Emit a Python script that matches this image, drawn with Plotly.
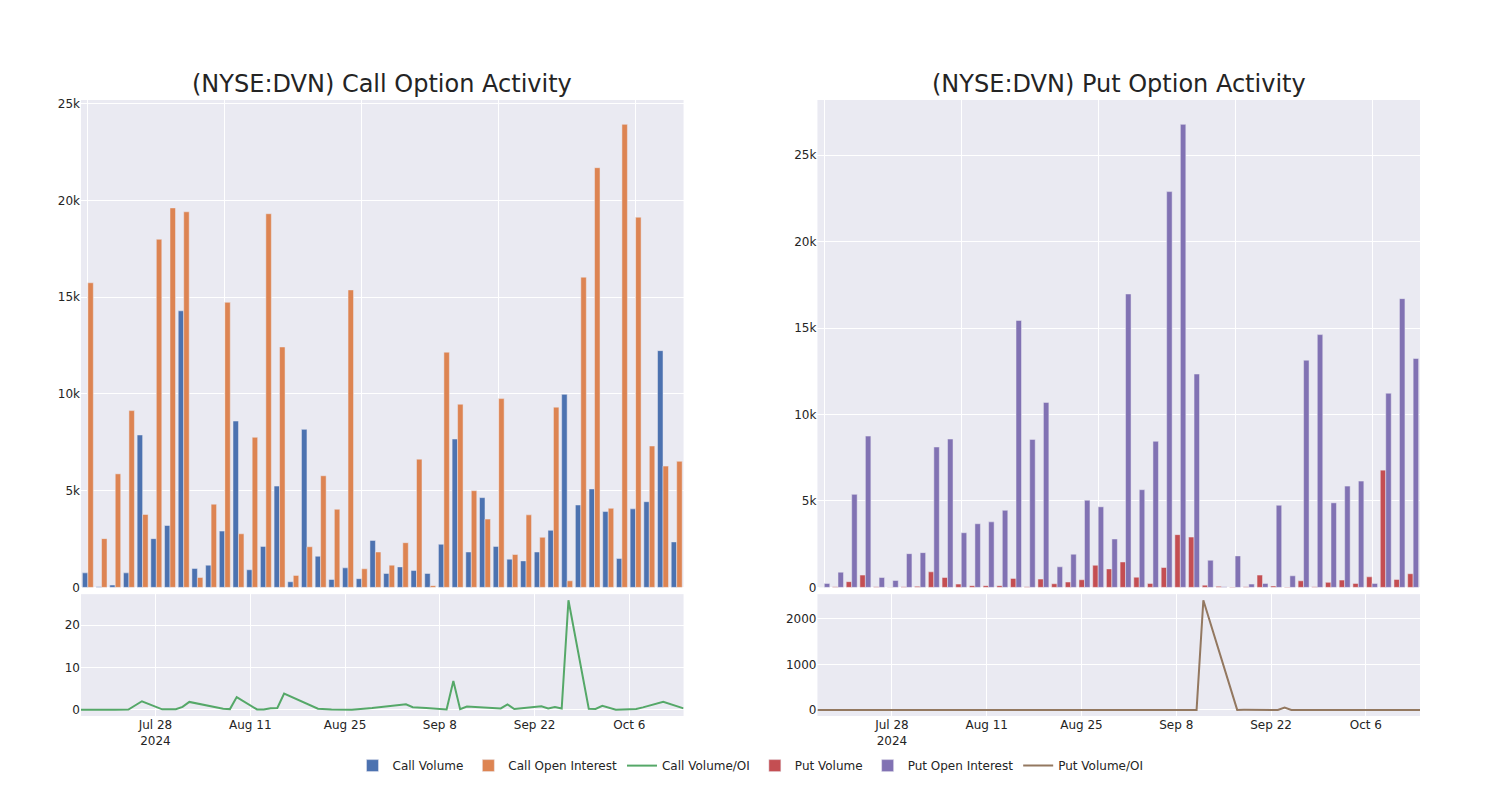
import plotly.graph_objects as go
from plotly.subplots import make_subplots

dates = [
    "2024-07-17", "2024-07-18", "2024-07-22", "2024-07-24", "2024-07-26",
    "2024-07-29", "2024-07-31", "2024-08-01", "2024-08-02", "2024-08-07",
    "2024-08-08", "2024-08-09", "2024-08-12", "2024-08-13", "2024-08-14",
    "2024-08-15", "2024-08-16", "2024-08-21", "2024-08-23", "2024-08-26",
    "2024-08-29", "2024-09-03", "2024-09-04", "2024-09-06", "2024-09-09",
    "2024-09-10", "2024-09-11", "2024-09-12", "2024-09-17", "2024-09-18",
    "2024-09-19", "2024-09-23", "2024-09-24", "2024-09-25", "2024-09-26",
    "2024-09-27", "2024-09-30", "2024-10-01", "2024-10-02", "2024-10-04",
    "2024-10-07", "2024-10-08", "2024-10-11", "2024-10-14",
]

call_volume = [750, 30, 120, 750, 7880, 2520, 3200, 14300, 980, 1150,
               2910, 8600, 910, 2120, 5240, 290, 8170, 1610, 410, 1010,
               450, 2430, 720, 1060, 870, 720, 2230, 7670, 1830, 4640,
               2120, 1460, 1370, 1830, 2950, 9980, 4260, 5090, 3920, 1490,
               4060, 4430, 12240, 2350]
call_oi = [15750, 2520, 5870, 9140, 3770, 18000, 19620, 19420, 510, 4300,
           14740, 2770, 7760, 19320, 12430, 620, 2100, 5770, 4040, 15380,
           960, 1830, 1150, 2310, 6630, 90, 12160, 9470, 5000, 3530,
           9760, 1700, 3750, 2590, 9320, 340, 16040, 21700, 4090, 23940,
           19140, 7310, 6270, 6520]
call_vol_oi = [0.05, 0.01, 0.02, 0.08, 2.05, 0.14, 0.16, 0.74, 1.9, 0.27,
               0.2, 3.05, 0.12, 0.11, 0.42, 0.47, 3.85, 0.28, 0.1, 0.07,
               0.47, 1.33, 0.63, 0.46, 0.13, 6.85, 0.18, 0.81, 0.37, 1.31,
               0.22, 0.86, 0.37, 0.71, 0.32, 25.9, 0.27, 0.23, 0.96, 0.06,
               0.21, 0.61, 1.95, 0.36]

put_volume = [0, 40, 330, 710, 40, 10, 40, 60, 900, 570,
              190, 100, 100, 100, 520, 40, 480, 210, 310, 440,
              1280, 1070, 1470, 590, 230, 1150, 3050, 2910, 130, 60,
              20, 40, 710, 80, 20, 380, 40, 290, 420, 230,
              610, 6780, 460, 790]
put_oi = [230, 880, 5380, 8750, 570, 400, 1950, 2010, 8120, 8580,
          3160, 3680, 3790, 4460, 15440, 8560, 10700, 1190, 1920, 5040,
          4660, 2800, 16970, 5650, 8450, 22890, 26780, 12340, 1570, 40,
          1820, 190, 230, 4750, 670, 13140, 14620, 4890, 5860, 6150,
          230, 11230, 16700, 13240]
put_vol_oi = [0.0, 0.05, 0.06, 0.08, 0.07, 0.03, 0.02, 0.03, 0.11, 0.07,
              0.06, 0.03, 0.03, 0.02, 0.03, 0.0, 0.04, 0.18, 0.16, 0.09,
              0.27, 0.38, 0.09, 0.1, 0.03, 0.05, 0.11, 2410, 0.08, 1.5,
              0.01, 0.2, 51, 0.02, 0.03, 0.03, 0.0, 0.06, 0.07, 0.04,
              2.65, 0.6, 0.03, 0.06]

fig = make_subplots(
    rows=2, cols=2,
    row_heights=[0.8, 0.2],
    vertical_spacing=0.011,
    horizontal_spacing=0.1,
    subplot_titles=("(NYSE:DVN) Call Option Activity",
                    "(NYSE:DVN) Put Option Activity", None, None),
)

fig.add_trace(go.Bar(x=dates, y=call_volume, name="Call Volume"), row=1, col=1)
fig.add_trace(go.Bar(x=dates, y=call_oi, name="Call Open Interest"), row=1, col=1)
fig.add_trace(go.Scatter(x=dates, y=call_vol_oi, mode="lines", name="Call Volume/OI"), row=2, col=1)
fig.add_trace(go.Bar(x=dates, y=put_volume, name="Put Volume"), row=1, col=2)
fig.add_trace(go.Bar(x=dates, y=put_oi, name="Put Open Interest"), row=1, col=2)
fig.add_trace(go.Scatter(x=dates, y=put_vol_oi, mode="lines", name="Put Volume/OI"), row=2, col=2)

for c in (1, 2):
    fig.update_xaxes(type="category", showticklabels=False, tickmode="linear",
                     tick0=0, dtick=10, row=1, col=c)
    fig.update_xaxes(type="date", row=2, col=c)

fig.update_layout(
    template="seaborn",
    font=dict(family="DejaVu Sans"),
    width=1484, height=784,
    margin=dict(l=73, r=72, t=92, b=72),
    barmode="group",
    legend=dict(orientation="h", x=0.5, xanchor="center", y=-0.057, yanchor="top"),
)
for ann in fig.layout.annotations:
    ann.font.size = 24

fig.write_html("out.html")
